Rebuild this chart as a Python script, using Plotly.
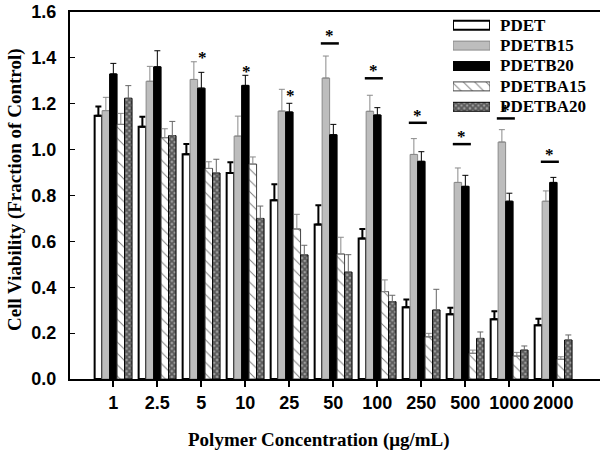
import plotly.graph_objects as go

conc = ["1", "2.5", "5", "10", "25", "50", "100", "250", "500", "1000", "2000"]
series_names = ["PDET", "PDETB15", "PDETB20", "PDETBA15", "PDETBA20"]

PDET = [1.148, 1.10, 0.98, 0.898, 0.779, 0.674, 0.613, 0.313, 0.282, 0.26, 0.234]
PDET_err = [0.04, 0.043, 0.044, 0.047, 0.07, 0.083, 0.041, 0.034, 0.029, 0.035, 0.029]
PDETB15 = [1.17, 1.298, 1.306, 1.059, 1.168, 1.312, 1.167, 0.979, 0.857, 1.033, 0.775]
PDETB15_err = [0.058, 0.065, 0.077, 0.087, 0.095, 0.096, 0.07, 0.069, 0.063, 0.054, 0.045]
PDETB20 = [1.33, 1.361, 1.268, 1.28, 1.164, 1.065, 1.151, 0.949, 0.84, 0.775, 0.857]
PDETB20_err = [0.046, 0.07, 0.069, 0.044, 0.038, 0.045, 0.032, 0.042, 0.048, 0.035, 0.022]
PDETBA15 = [1.11, 1.052, 0.918, 0.937, 0.654, 0.545, 0.381, 0.184, 0.112, 0.10, 0.086]
PDETBA15_err = [0.048, 0.039, 0.029, 0.031, 0.064, 0.073, 0.051, 0.015, 0.014, 0.016, 0.011]
PDETBA20 = [1.224, 1.061, 0.898, 0.70, 0.541, 0.466, 0.337, 0.301, 0.177, 0.126, 0.17]
PDETBA20_err = [0.055, 0.062, 0.06, 0.054, 0.042, 0.076, 0.028, 0.09, 0.028, 0.018, 0.022]

# significance markers
star_only_groups = ["5", "10", "25"]
star_only_y = [1.412, 1.35, 1.245]
star_bar_groups = ["50", "100", "250", "500", "1000", "2000"]
star_bar_y = [1.463, 1.311, 1.117, 1.024, 1.136, 0.947]

yticks = [0.0, 0.2, 0.4, 0.6, 0.8, 1.0, 1.2, 1.4, 1.6]
x_title = "Polymer Concentration (μg/mL)"
y_title = "Cell Viability (Fraction of Control)"

values = [PDET, PDETB15, PDETB20, PDETBA15, PDETBA20]
errors = [PDET_err, PDETB15_err, PDETB20_err, PDETBA15_err, PDETBA20_err]

styles = [
    dict(color="white", line=dict(color="black", width=2)),
    dict(color="#bdbdbd", line=dict(color="#8a8a8a", width=1)),
    dict(color="black", line=dict(color="black", width=1)),
    dict(color="white", line=dict(color="#444", width=1),
         pattern=dict(shape="\\", fgcolor="black", bgcolor="white", size=8, solidity=0.12)),
    dict(color="#222", line=dict(color="black", width=1),
         pattern=dict(shape="x", fgcolor="#111", bgcolor="#a0a0a0", size=4, solidity=0.7)),
]
err_styles = [
    dict(color="black", thickness=2),
    dict(color="#8a8a8a", thickness=1),
    dict(color="black", thickness=1),
    dict(color="#8a8a8a", thickness=1),
    dict(color="#666", thickness=1),
]

serif_bold = "Liberation Serif"
sans_bold = "Liberation Sans"

PLOT_L, PLOT_W = 70, 530  # plot area left edge and width (px)

fig = go.Figure()
for name, v, e, st, es in zip(series_names, values, errors, styles, err_styles):
    fig.add_trace(go.Bar(
        x=conc, y=v, name=name, marker=st, showlegend=False,
        error_y=dict(type="data", array=e, arrayminus=[0] * len(e), symmetric=False,
                     width=3, **es),
    ))

# legend swatches on an overlay axis
for i, (name, st) in enumerate(zip(series_names, styles)):
    fig.add_trace(go.Bar(
        x=[1], y=[i], orientation="h", width=0.44, offset=-0.22, base=0,
        marker=st, xaxis="x2", yaxis="y2", showlegend=False, hoverinfo="skip",
    ))
    fig.add_annotation(x=(498 - PLOT_L) / PLOT_W, y=i, xref="paper", yref="y2", text=name,
                       showarrow=False, xanchor="left",
                       font=dict(family=serif_bold, size=17, color="black", weight=700))

star_font = dict(family=serif_bold, size=17, color="black", weight=700)
for g, y in zip(star_only_groups, star_only_y):
    idx = conc.index(g)
    fig.add_annotation(x=idx, y=y, xref="x", yref="y", text="*", showarrow=False,
                       xshift=1, yshift=-2, font=star_font)
for g, y in zip(star_bar_groups, star_bar_y):
    idx = conc.index(g)
    fig.add_shape(type="line", xref="x", yref="y", x0=idx - 0.285, x1=idx + 0.125,
                  y0=y, y1=y, line=dict(color="black", width=2.5))
    fig.add_annotation(x=idx - 0.08, y=y, xref="x", yref="y", text="*", showarrow=False,
                       yanchor="bottom", yshift=-4, font=star_font)

# axis titles
fig.add_annotation(x=(319 - PLOT_L) / PLOT_W, y=(379 - 440) / 367, xref="paper", yref="paper",
                   text=x_title, showarrow=False, xanchor="center", yanchor="middle",
                   font=dict(family=serif_bold, size=19, color="black", weight=700))
fig.add_annotation(x=(15 - PLOT_L) / PLOT_W, y=(379 - 190) / 367, xref="paper", yref="paper",
                   text=y_title, showarrow=False, textangle=-90, xanchor="center", yanchor="middle",
                   font=dict(family=serif_bold, size=19, color="black", weight=700))

fig.update_layout(
    width=602, height=456,
    margin=dict(l=70, r=2, t=12, b=77, autoexpand=False),
    paper_bgcolor="white", plot_bgcolor="white",
    barmode="group", bargap=0.15, bargroupgap=0,
    showlegend=False,
    xaxis=dict(type="category", range=[-0.985, 11.06], showline=True, linecolor="black",
               linewidth=2, mirror=True, ticks="outside", ticklen=6, tickwidth=2,
               tickcolor="black", showgrid=False, zeroline=False, automargin=False,
               tickfont=dict(family=sans_bold, size=18, color="black", weight=700)),
    yaxis=dict(range=[0, 1.6], tickvals=yticks, tickformat=".1f", showline=True,
               linecolor="black", linewidth=2, ticks="inside", ticklen=5, tickwidth=1,
               tickcolor="black", showgrid=False, zeroline=False, automargin=False,
               ticklabelstandoff=8,
               tickfont=dict(family=sans_bold, size=18, color="black", weight=700)),
    xaxis2=dict(domain=[(453 - PLOT_L) / PLOT_W, (490 - PLOT_L) / PLOT_W], range=[0, 1],
                anchor="y2", visible=False, fixedrange=True),
    yaxis2=dict(domain=[0.7139, 0.9918], range=[4.5, -0.5], anchor="x2", visible=False, fixedrange=True),
)

fig.write_html("out.html", config={"displayModeBar": False, "staticPlot": True},
               post_script="document.body.style.margin='0px';document.body.style.overflow='hidden';")
